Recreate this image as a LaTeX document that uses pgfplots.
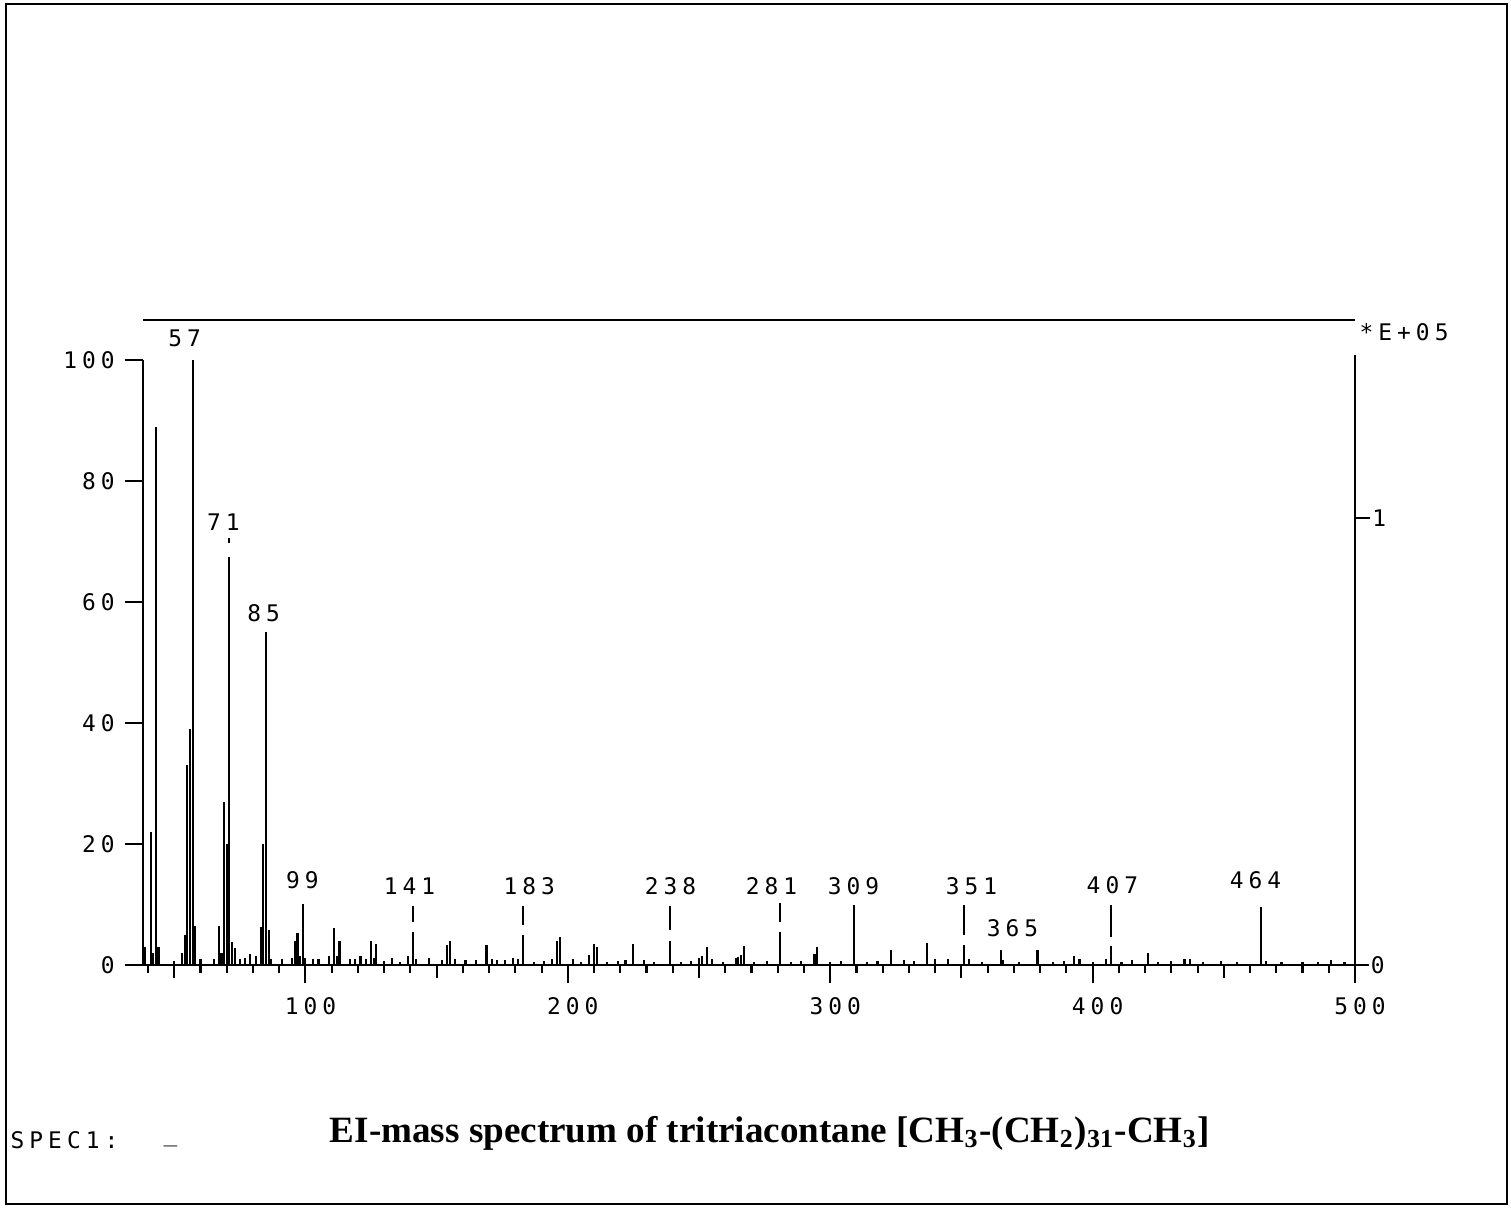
\documentclass[border=0pt]{standalone}
\usepackage{pgfplots}
\pgfplotsset{compat=1.18}
\usepackage{fontspec}
\setmainfont{Liberation Serif}
\newfontfamily\plotfont{DejaVu Sans Mono}[LetterSpace=22]
\newcommand\pf{\plotfont\fontsize{6.5}{7}\selectfont}

\pgfplotstableread{
mz  int
39  3
41  22
42  2
43  89
44  3
50  0.6
53  2
54  5
55  33
56  39
57  100
58  6.5
60  1
65  1
67  6.5
68  2
69  27
70  20
71  67.5
72  3.8
73  2.8
75  1
77  1.2
79  1.9
81  1.5
83  6.2
84  20
85  55
86  5.8
87  1
91  1
95  1.2
96  4
97  5.3
98  1.5
99  10
100 1.2
103 1
105 1
109 1.5
111 6.1
112 1.5
113 3.9
117 1
119 1
121 1.5
123 1
125 3.9
126 1.2
127 3.5
130 0.6
133 1.2
136 0.5
139 1.5
141 5.5
142 1
147 1.2
152 0.8
154 3.3
155 3.9
157 1
161 0.8
165 0.8
169 3.3
171 1
173 0.8
176 0.8
179 1.2
181 1
183 5
187 0.5
191 0.6
194 1
196 3.9
197 4.6
202 1
205 0.5
208 1.6
210 3.4
211 3
215 0.5
219 0.6
222 0.8
225 3.4
229 0.8
233 0.5
239 3.9
243 0.5
247 0.6
250 1.2
251 1.5
253 2.9
255 1
259 0.5
264 1.2
265 1.3
266 1.6
267 3.1
271 0.5
276 0.6
281 5.5
285 0.5
289 0.6
294 1.8
295 3
300 0.5
304 0.6
309 6.3
314 0.5
318 0.6
323 2.5
328 0.8
332 0.6
337 3.6
340 1
345 1
351 3.3
353 1
358 0.5
365 2.5
366 0.8
372 0.5
379 2.4
385 0.5
389 0.6
393 1.5
395 1
400 0.5
405 1
407 3.1
411 0.5
415 0.8
421 2
425 0.5
430 0.6
435 1
437 1
442 0.5
449 0.6
455 0.5
464 9.6
466 0.7
472 0.5
480 0.5
486 0.5
491 0.8
496 0.5
}\peaks

\pgfplotstableread{
x     y     lab
53.0  103.6 57
67.8  73.2  71
83.1  58.2  85
97.9  14.0  99
138.7 13.1  141
184.4 13.1  183
238.2 13.1  238
276.7 13.1  281
307.9 13.1  309
352.9 13.1  351
368.5 6.1   365
406.6 13.2  407
461.1 14.0  464
}\labels

\begin{document}
\begin{tikzpicture}
\useasboundingbox (0,0) rectangle (15.11,12.07);
\draw[line width=0.7pt] (0.06,0.03) rectangle (15.07,12.03);
\begin{axis}[
  at={(1.43cm,2.42cm)}, anchor=south west,
  scale only axis, width=12.12cm, height=6.05cm,
  xmin=38.1, xmax=500, ymin=0, ymax=100,
  clip=false,
  axis x line=bottom, axis y line=left,
  axis line style={draw=none},
  tick align=outside,
  major tick length=0.18cm, minor tick length=0.08cm,
  every tick/.style={black, line width=0.6pt},
  xtick={100,200,300,400,500},
  minor xtick={40,50,...,490},
  extra x ticks={50,150,250,350,450},
  extra x tick labels={},
  extra x tick style={major tick length=0.13cm},
  ytick={0,20,...,100},
  /pgf/number format/assume math mode=true,
  ticklabel style={font=\pf},
  yticklabel style={xshift=0.02cm},
  xticklabel style={xshift=0.05cm, yshift=-0.02cm},
]
% axis frame lines
\draw[line width=0.6pt] (axis cs:38.1,0) -- (axis cs:505.5,0);
\draw[line width=0.6pt] (axis cs:38.1,0) -- (axis cs:38.1,100);
\draw[line width=0.6pt] (axis cs:500,0) -- (axis cs:500,100.8);
\draw[line width=0.6pt] (axis cs:38.1,106.6) -- (axis cs:500,106.6);
\draw[line width=0.6pt] (axis cs:500,73.9) -- (axis cs:505.8,73.9);
\node[font=\pf, anchor=west, inner sep=0pt] at (axis cs:506.3,73.9) {1};
\node[font=\pf, anchor=west, inner sep=0pt] at (axis cs:505.8,0) {0};
\node[font=\pf, anchor=west, inner sep=0pt] at (axis cs:501.5,104.6) {*E+05};

% spectrum
\addplot[ycomb, mark=none, line width=0.6pt] table[x=mz, y=int] {\peaks};

% label markers
\addplot[mark=none, line width=0.6pt, unbounded coords=jump] coordinates {
(71,69.8) (71,70.6) (71,nan)
(141,7.1) (141,9.75) (141,nan)
(183,6.6) (183,9.75) (183,nan)
(239,5.8) (239,9.75) (239,nan)
(281,7.1) (281,10.2) (281,nan)
(309,6.3) (309,9.9) (309,nan)
(351,5.0) (351,9.9) (351,nan)
(407,4.6) (407,9.9)
};

% peak labels
\addplot[draw=none, mark=none, point meta=explicit symbolic,
  nodes near coords, nodes near coords align={center},
  every node near coord/.append style={font=\pf, inner sep=0pt, anchor=center, xshift=0.7pt}]
  table[x=x, y=y, meta=lab] {\labels};
\end{axis}

\node[font=\pf, anchor=west, inner sep=0pt] at (0.10,0.67) {SPEC1:};
\node[font=\pf, anchor=west, inner sep=0pt] at (1.63,0.63) {\_};
\node[inner sep=0pt] at (7.70,0.74) {\resizebox{8.8cm}{!}{\bfseries EI-mass spectrum of tritriacontane [CH\textsubscript{3}-(CH\textsubscript{2})\textsubscript{31}-CH\textsubscript{3}]}};
\end{tikzpicture}
\end{document}
